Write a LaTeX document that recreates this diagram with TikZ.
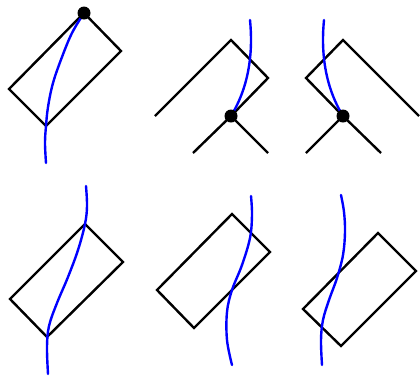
\documentclass[tikz,border=0pt]{standalone}
\begin{document}
\begin{tikzpicture}[x=1pt,y=-1pt,
  edge/.style={draw=black,line width=2.4pt},
  strand/.style={draw=blue,line width=2.4pt,line cap=round},
  knot/.style={fill=black}]
\useasboundingbox (0,0) rectangle (420,376);
% ---------- Panel 1 ----------
\coordinate (a1) at (84,13);
\coordinate (a2) at (121,51);
\coordinate (a3) at (46,126);
\coordinate (a4) at (9,89);
\draw[edge] (a1) -- (a2) -- (a3) -- (a4) -- cycle;
\draw[strand] plot[smooth,tension=0.6] coordinates {(84,13) (72,33) (62,57) (53,83) (48,107) (46,126) (45,143) (46,163)};
\fill[knot] (a1) circle (6.5);
% ---------- Panel 2 ----------
\coordinate (b0) at (155,116);
\coordinate (b1) at (231,40);
\coordinate (b2) at (268,78);
\coordinate (b3) at (231,116);
\coordinate (b4) at (193,153);
\coordinate (b5) at (268,153);
\draw[edge] (b0) -- (b1) -- (b2) -- (b3) -- (b4);
\draw[edge] (b3) -- (b5);
\draw[strand] (250,20) .. controls (253,50) and (250,85) .. (b3);
\fill[knot] (b3) circle (6.5);
% ---------- Panel 3 ----------
\coordinate (c0) at (419,116);
\coordinate (c1) at (343,40);
\coordinate (c2) at (306,78);
\coordinate (c3) at (343,116);
\coordinate (c4) at (381,153);
\coordinate (c5) at (306,153);
\draw[edge] (c0) -- (c1) -- (c2) -- (c3) -- (c4);
\draw[edge] (c3) -- (c5);
\draw[strand] (324,20) .. controls (321,50) and (324,85) .. (c3);
\fill[knot] (c3) circle (6.5);
% ---------- Panel 4 ----------
\coordinate (d1) at (85,224);
\coordinate (d2) at (123,262);
\coordinate (d3) at (47,337);
\coordinate (d4) at (10,299);
\draw[edge] (d1) -- (d2) -- (d3) -- (d4) -- cycle;
\draw[strand] plot[smooth,tension=0.6] coordinates {(86,186) (87,206) (85,224) (78,250) (68,277) (57,303) (49,326) (47,347) (48,374)};
% ---------- Panel 5 ----------
\coordinate (e1) at (232,214);
\coordinate (e2) at (270,252);
\coordinate (e3) at (194,328);
\coordinate (e4) at (157,290);
\draw[edge] (e1) -- (e2) -- (e3) -- (e4) -- cycle;
\draw[strand] plot[smooth,tension=0.6] coordinates {(251,196) (252,215) (250,238) (242,265) (232,290) (227,312) (227,340) (232,365)};
% ---------- Panel 6 ----------
\coordinate (f1) at (378,233);
\coordinate (f2) at (416,271);
\coordinate (f3) at (341,346);
\coordinate (f4) at (303,309);
\draw[edge] (f1) -- (f2) -- (f3) -- (f4) -- cycle;
\draw[strand] plot[smooth,tension=0.6] coordinates {(341,195) (344,212) (345,232) (343,255) (337,278) (329,300) (323,320) (321,340) (322,365)};
\end{tikzpicture}
\end{document}
